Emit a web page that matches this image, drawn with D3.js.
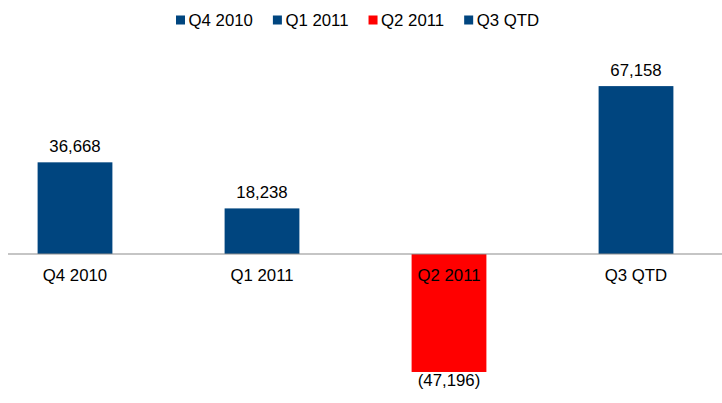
<!DOCTYPE html>
<html>
<head>
<meta charset="utf-8">
<script src="https://cdn.jsdelivr.net/npm/d3@7"></script>
<style>
  body { margin: 0; background: #fff; }
  svg text { font-family: "Liberation Sans", Arial, sans-serif; fill: #000; }
</style>
</head>
<body>
<div id="chart"></div>
<script>
// Data
const categories = ['Q4 2010', 'Q1 2011', 'Q2 2011', 'Q3 QTD'];
const values = [36668, 18238, -47196, 67158];
const barColours = ['#00457f', '#00457f', '#ff0000', '#00457f'];

const width = 722, height = 403;
const fontSize = 16.8;

const svg = d3.select('#chart')
  .append('svg')
    .attr('width', width)
    .attr('height', height);

// Scales
const xScale = d3.scaleBand()
  .domain(categories)
  .range([-18.5, 729.5])
  .paddingInner(0.6)
  .paddingOuter(0.3);

const yScale = d3.scaleLinear()
  .domain([-50000, 70000])
  .range([379, 79]);

const fmt = d3.format(',');
const labelText = v => v < 0 ? `(${fmt(-v)})` : fmt(v);

// Bars
svg.selectAll('.bar')
  .data(values)
  .join('rect')
    .attr('class', 'bar')
    .attr('x', (d, i) => xScale(categories[i]))
    .attr('width', xScale.bandwidth())
    .attr('y', d => yScale(Math.max(0, d)))
    .attr('height', d => Math.abs(yScale(d) - yScale(0)))
    .attr('fill', (d, i) => barColours[i]);

// Zero line
svg.append('line')
  .attr('x1', 8)
  .attr('x2', width)
  .attr('y1', yScale(0))
  .attr('y2', yScale(0))
  .attr('stroke', '#8c8c8c')
  .attr('stroke-width', 1.2);

// Value labels
svg.selectAll('.value-label')
  .data(values)
  .join('text')
    .attr('class', 'value-label')
    .attr('x', (d, i) => xScale(categories[i]) + xScale.bandwidth() / 2)
    .attr('y', d => d >= 0 ? yScale(d) - 10.5 : yScale(d) + 14.5)
    .attr('text-anchor', 'middle')
    .style('font-size', fontSize + 'px')
    .text(d => labelText(d));

// Category labels
svg.selectAll('.cat-label')
  .data(categories)
  .join('text')
    .attr('class', 'cat-label')
    .attr('x', d => xScale(d) + xScale.bandwidth() / 2)
    .attr('y', yScale(0) + 27)
    .attr('text-anchor', 'middle')
    .style('font-size', fontSize + 'px')
    .text(d => d);

// Legend
const legend = svg.append('g').attr('class', 'legend');
let lx = 176;
categories.forEach((c, i) => {
  legend.append('rect')
    .attr('x', lx)
    .attr('y', 15.5)
    .attr('width', 9)
    .attr('height', 9)
    .attr('fill', barColours[i]);
  const t = legend.append('text')
    .attr('x', lx + 12.5)
    .attr('y', 25.5)
    .style('font-size', fontSize + 'px')
    .text(c);
  lx += 12.5 + t.node().getComputedTextLength() + 20;
});
</script>
</body>
</html>
